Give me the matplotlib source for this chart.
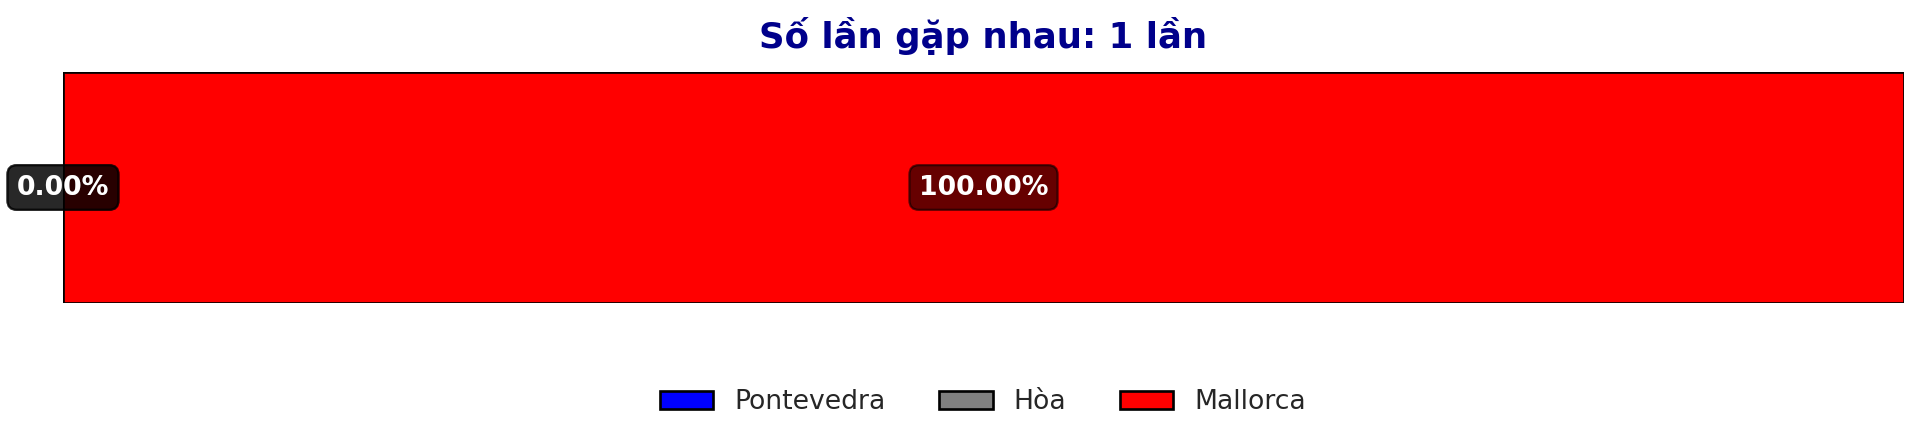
import matplotlib
matplotlib.use('Agg')
import matplotlib.pyplot as plt

teams = ['Pontevedra', 'Hòa', 'Mallorca']
percents = [0.0, 0.0, 100.0]
colors = ['blue', 'gray', 'red']
title = 'Số lần gặp nhau: 1 lần'

fig = plt.figure(figsize=(12, 2.775), dpi=160)
ax = fig.add_axes([0.0328, 0.3176, 0.9589, 0.5202])

left = 0
for name, val, col in zip(teams, percents, colors):
    ax.barh(0, val, left=left, height=0.6, color=col, edgecolor='black',
            linewidth=1.2, label=name)
    ax.text(left + val / 2, 0, '%.2f%%' % val, ha='center', va='center',
            color='white', fontsize=12, fontweight='bold',
            bbox=dict(boxstyle='round,pad=0.35', facecolor='black',
                      edgecolor='black', alpha=0.6))
    left += val

ax.set_xlim(0, 100)
ax.set_ylim(-0.3, 0.3)
ax.axis('off')
ax.set_title(title, fontsize=16, fontweight='bold', color='darkblue', pad=11)

leg = fig.legend(loc='center', bbox_to_anchor=(0.512, 0.094), ncol=3,
                 frameon=False, fontsize=12)
for t in leg.get_texts():
    t.set_color('#262626')

plt.savefig('out.png', dpi=160)
